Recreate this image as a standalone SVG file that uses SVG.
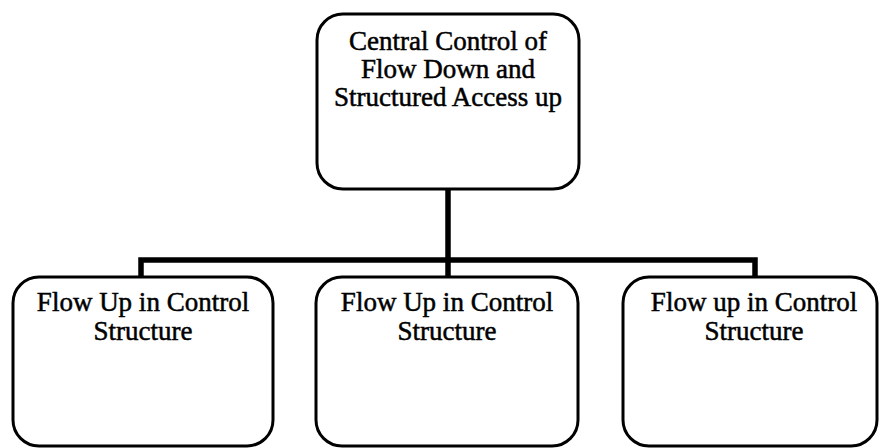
<svg xmlns="http://www.w3.org/2000/svg" width="880" height="448" viewBox="0 0 880 448">
  <style>
    .box { fill: #ffffff; stroke: #000000; stroke-width: 3; }
    .label { font-family: "Liberation Serif", "Times New Roman", serif; font-size: 27px; fill: #000000; stroke: #000000; stroke-width: 0.5; text-anchor: middle; }
    .conn { fill: none; stroke: #000000; stroke-width: 5.5; stroke-linejoin: miter; stroke-linecap: butt; }
  </style>
  <rect width="880" height="448" fill="#ffffff"/>
  <g id="connectors">
    <path class="conn" d="M448 189 V260"/>
    <path class="conn" d="M141 277 V260 H755 V277"/>
    <path class="conn" d="M448 260 V277"/>
  </g>
  <g id="central">
    <rect class="box" x="317" y="14" width="262" height="175" rx="26" ry="26"/>
    <text class="label" x="448" y="50">Central Control of</text>
    <text class="label" x="448" y="78">Flow Down and</text>
    <text class="label" x="448" y="106">Structured Access up</text>
  </g>
  <g id="left">
    <rect class="box" x="13" y="277" width="260" height="169" rx="26" ry="26"/>
    <text class="label" x="143" y="311">Flow Up in Control</text>
    <text class="label" x="143" y="340">Structure</text>
  </g>
  <g id="middle">
    <rect class="box" x="316" y="277" width="262" height="169" rx="26" ry="26"/>
    <text class="label" x="447" y="311">Flow Up in Control</text>
    <text class="label" x="447" y="340">Structure</text>
  </g>
  <g id="right">
    <rect class="box" x="623" y="277" width="254" height="169" rx="26" ry="26"/>
    <text class="label" x="754" y="311">Flow up in Control</text>
    <text class="label" x="754" y="340">Structure</text>
  </g>
</svg>
